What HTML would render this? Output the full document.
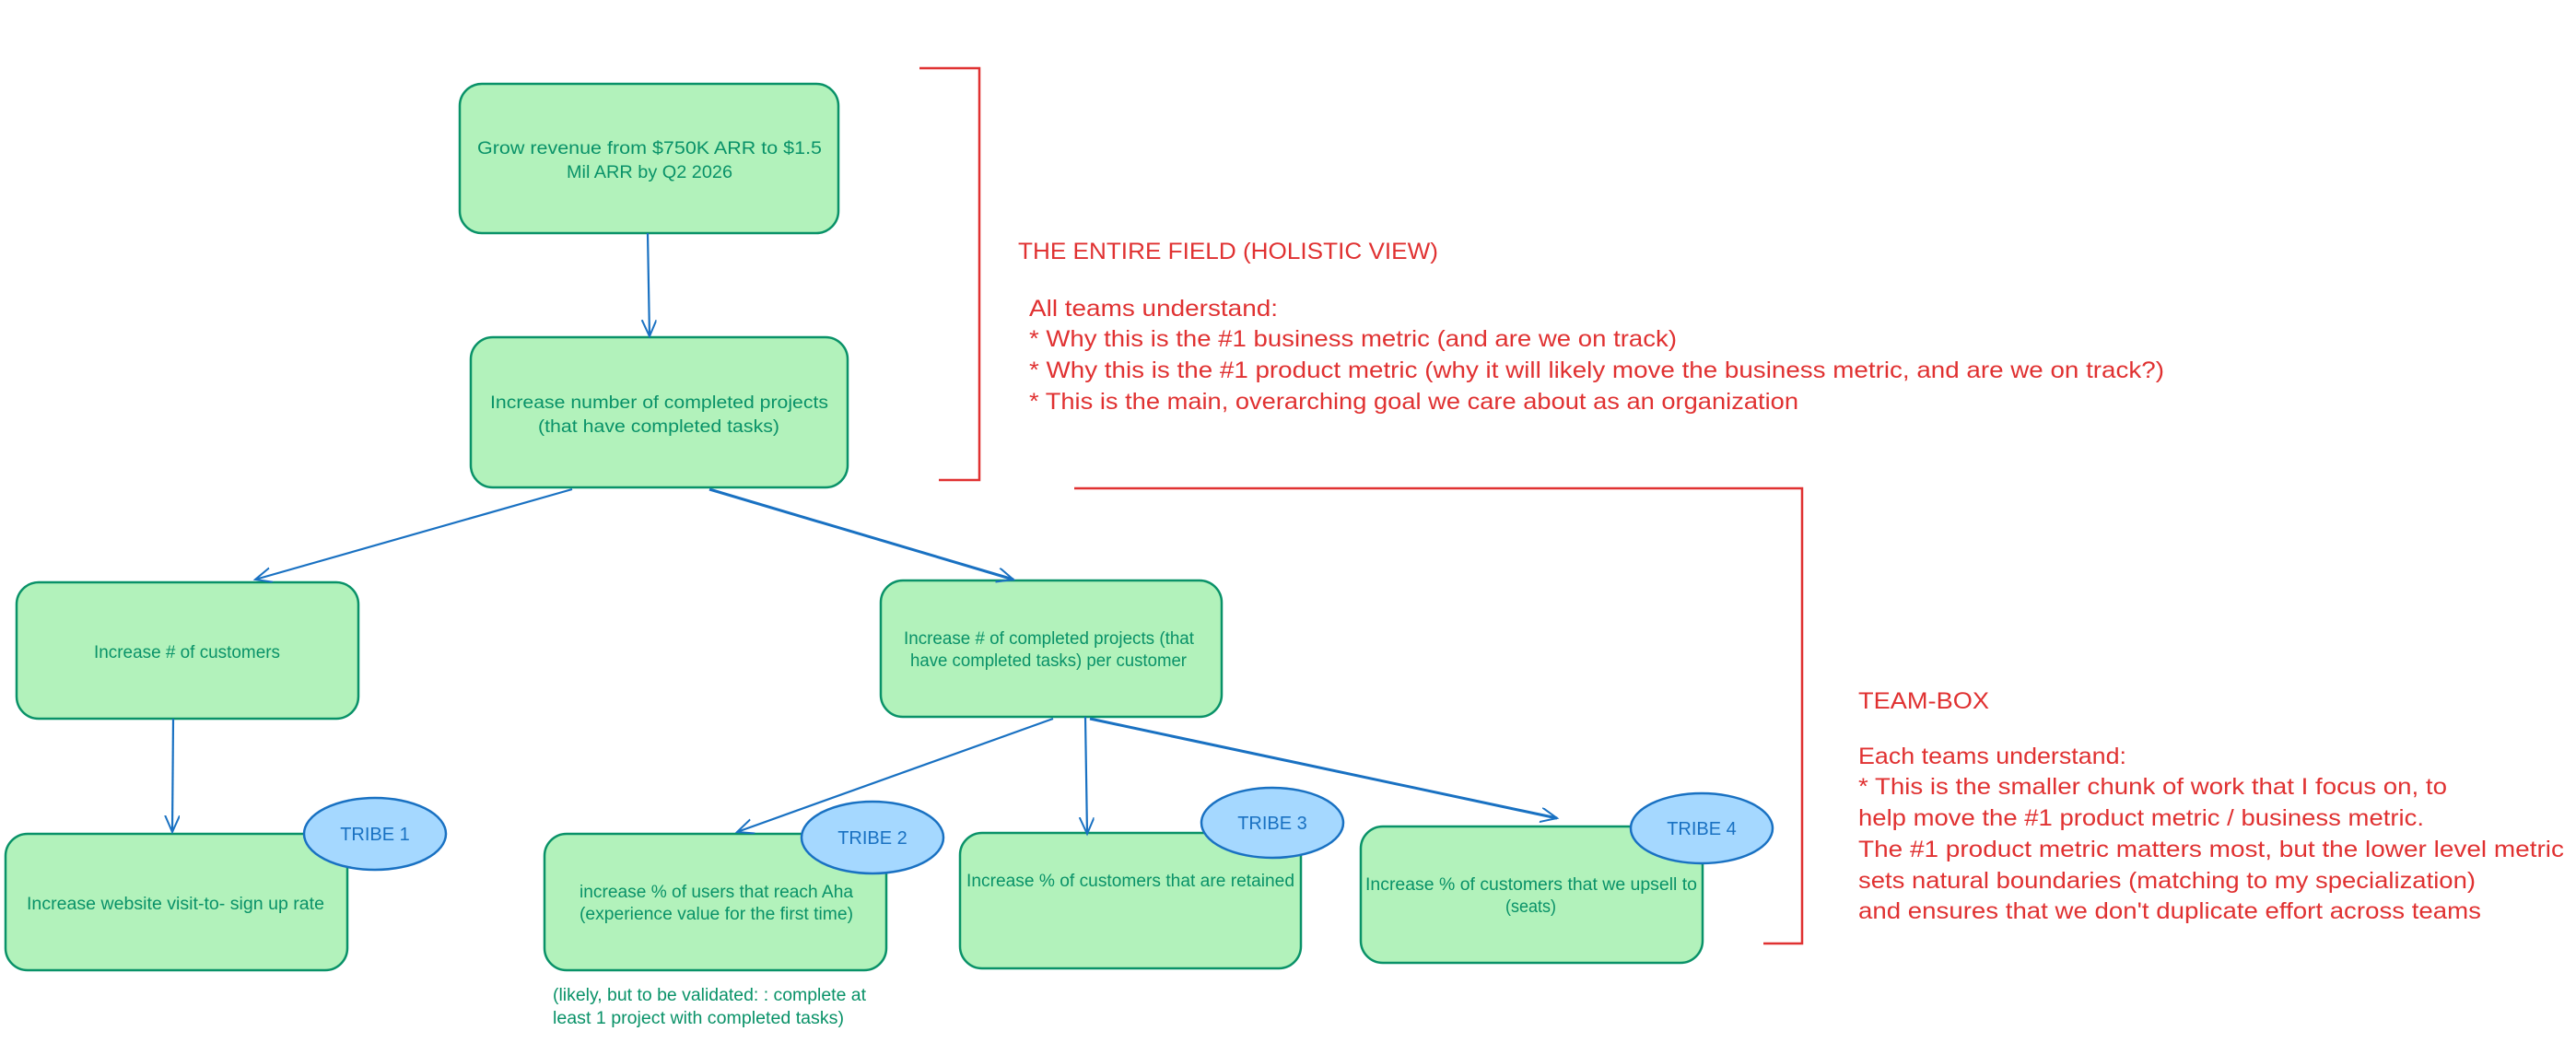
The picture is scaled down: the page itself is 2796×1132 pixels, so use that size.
<!DOCTYPE html>
<html><head><meta charset="utf-8"><style>
html,body{margin:0;padding:0;background:#fff;}
svg{display:block;}
text{font-family:"Liberation Sans",sans-serif;}
</style></head><body>
<svg width="2796" height="1132" viewBox="0 0 2796 1132" xmlns="http://www.w3.org/2000/svg">
<defs>
<marker id="ah" markerUnits="userSpaceOnUse" markerWidth="24" markerHeight="20" refX="18" refY="8" orient="auto">
<path d="M0,0 L18,8 L0,16" fill="none" stroke="#1971c2" stroke-width="2"/>
</marker>
</defs>
<rect width="2796" height="1132" fill="#fff"/>

<!-- boxes -->
<g fill="#b2f2bb" stroke="#099268" stroke-width="2.5">
<rect x="499" y="91" width="411" height="162" rx="24"/>
<rect x="511" y="366" width="409" height="163" rx="24"/>
<rect x="18" y="632" width="371" height="148" rx="24"/>
<rect x="956" y="630" width="370" height="148" rx="24"/>
<rect x="6" y="905" width="371" height="148" rx="24"/>
<rect x="591" y="905" width="371" height="148" rx="24"/>
<rect x="1042" y="904" width="370" height="147" rx="24"/>
<rect x="1477" y="897" width="371" height="148" rx="24"/>
</g>

<!-- arrows -->
<g stroke="#1971c2" stroke-width="2.2" fill="none" marker-end="url(#ah)">
<line x1="703" y1="253" x2="705" y2="365"/>
<line x1="621" y1="531" x2="277" y2="629"/>
<line x1="770" y1="531" x2="1100" y2="629" stroke-width="3"/>
<line x1="188" y1="780" x2="187" y2="903"/>
<line x1="1143" y1="780" x2="800" y2="903"/>
<line x1="1178" y1="778" x2="1180" y2="905"/>
<line x1="1183" y1="780" x2="1690" y2="888" stroke-width="3"/>
</g>

<!-- tribes -->
<g fill="#a5d8ff" stroke="#1971c2" stroke-width="2.5">
<ellipse cx="407" cy="905" rx="77" ry="39"/>
<ellipse cx="947" cy="909" rx="77" ry="39"/>
<ellipse cx="1381" cy="893" rx="77" ry="38"/>
<ellipse cx="1847" cy="899" rx="77" ry="38"/>
</g>
<g fill="#1971c2" font-size="20" text-anchor="middle">
<text x="407" y="912">TRIBE 1</text>
<text x="947" y="916">TRIBE 2</text>
<text x="1381" y="900">TRIBE 3</text>
<text x="1847" y="906">TRIBE 4</text>
</g>

<!-- box text -->
<g fill="#099268" font-size="19" lengthAdjust="spacingAndGlyphs">
<text x="518" y="167" textLength="374" lengthAdjust="spacingAndGlyphs">Grow revenue from $750K ARR to $1.5</text>
<text x="615" y="193" textLength="180" lengthAdjust="spacingAndGlyphs">Mil ARR by Q2 2026</text>
<text x="532" y="443" textLength="367" lengthAdjust="spacingAndGlyphs">Increase number of completed projects</text>
<text x="584" y="469" textLength="262" lengthAdjust="spacingAndGlyphs">(that have completed tasks)</text>
<text x="102" y="714" textLength="202" lengthAdjust="spacingAndGlyphs">Increase # of customers</text>
<text x="981" y="699" textLength="315" lengthAdjust="spacingAndGlyphs">Increase # of completed projects (that</text>
<text x="988" y="723" textLength="300" lengthAdjust="spacingAndGlyphs">have completed tasks) per customer</text>
<text x="29" y="987" textLength="323" lengthAdjust="spacingAndGlyphs">Increase website visit-to- sign up rate</text>
<text x="629" y="974" textLength="297" lengthAdjust="spacingAndGlyphs">increase % of users that reach Aha</text>
<text x="629" y="998" textLength="297" lengthAdjust="spacingAndGlyphs">(experience value for the first time)</text>
<text x="1049" y="962" textLength="356" lengthAdjust="spacingAndGlyphs">Increase % of customers that are retained</text>
<text x="1482" y="966" textLength="360" lengthAdjust="spacingAndGlyphs">Increase % of customers that we upsell to</text>
<text x="1634" y="990" textLength="55" lengthAdjust="spacingAndGlyphs">(seats)</text>
<text x="600" y="1086" textLength="340" lengthAdjust="spacingAndGlyphs">(likely, but to be validated: : complete at</text>
<text x="600" y="1111" textLength="316" lengthAdjust="spacingAndGlyphs">least 1 project with completed tasks)</text>
</g>

<!-- red brackets -->
<g stroke="#e03131" stroke-width="2.5" fill="none">
<polyline points="998,74 1063,74 1063,521 1019,521"/>
<polyline points="1166,530 1956,530 1956,1024 1914,1024"/>
</g>

<!-- red text -->
<g fill="#e03131" font-size="25">
<text x="1105" y="281" textLength="456" lengthAdjust="spacingAndGlyphs">THE ENTIRE FIELD (HOLISTIC VIEW)</text>
<text x="1117" y="343" textLength="270" lengthAdjust="spacingAndGlyphs">All teams understand:</text>
<text x="1117" y="376" textLength="703" lengthAdjust="spacingAndGlyphs">* Why this is the #1 business metric (and are we on track)</text>
<text x="1117" y="410" textLength="1232" lengthAdjust="spacingAndGlyphs">* Why this is the #1 product metric (why it will likely move the business metric, and are we on track?)</text>
<text x="1117" y="444" textLength="835" lengthAdjust="spacingAndGlyphs">* This is the main, overarching goal we care about as an organization</text>
<text x="2017" y="769" textLength="142" lengthAdjust="spacingAndGlyphs">TEAM-BOX</text>
<text x="2017" y="829" textLength="291" lengthAdjust="spacingAndGlyphs">Each teams understand:</text>
<text x="2017" y="862" textLength="639" lengthAdjust="spacingAndGlyphs">* This is the smaller chunk of work that I focus on, to</text>
<text x="2017" y="896" textLength="614" lengthAdjust="spacingAndGlyphs">help move the #1 product metric / business metric.</text>
<text x="2017" y="930" textLength="766" lengthAdjust="spacingAndGlyphs">The #1 product metric matters most, but the lower level metric</text>
<text x="2017" y="964" textLength="670" lengthAdjust="spacingAndGlyphs">sets natural boundaries (matching to my specialization)</text>
<text x="2017" y="997" textLength="676" lengthAdjust="spacingAndGlyphs">and ensures that we don't duplicate effort across teams</text>
</g>
</svg>
</body></html>
